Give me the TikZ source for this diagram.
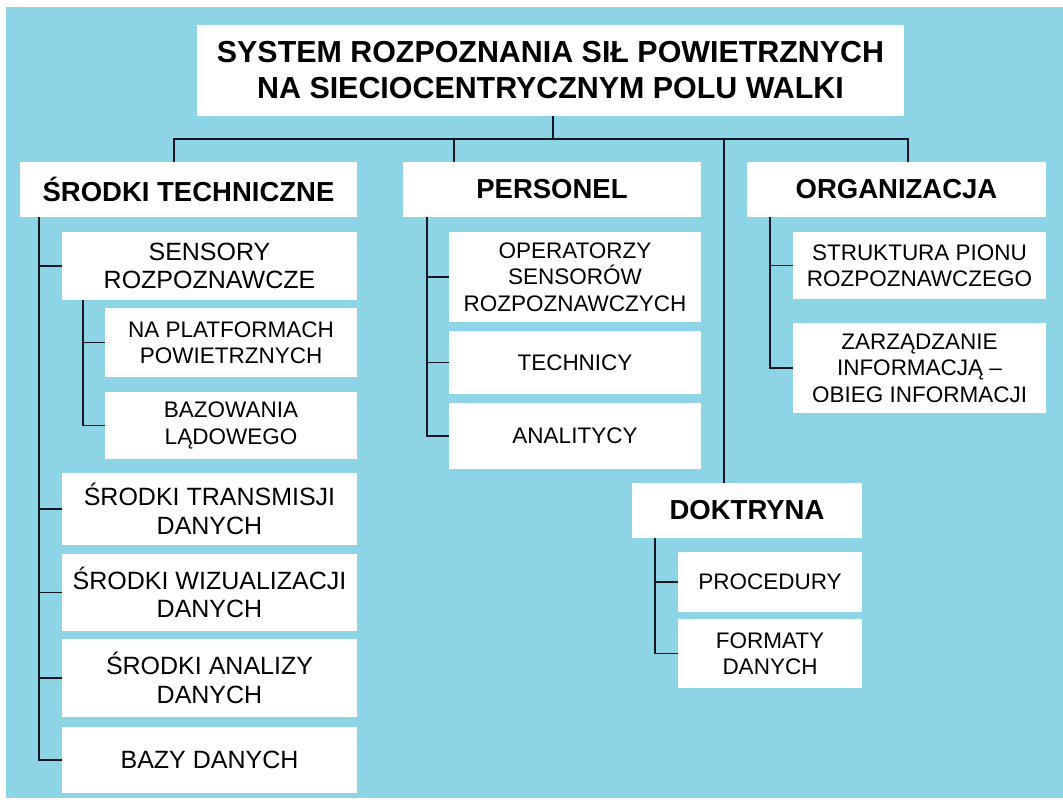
\documentclass[tikz,border=0pt]{standalone}
\usepackage{fontspec}
\setmainfont{Liberation Sans}
\definecolor{bg}{RGB}{141,212,231}
\definecolor{ln}{RGB}{22,22,32}
\begin{document}
\begin{tikzpicture}[x=1pt,y=-1pt,
  box/.style={fill=white, draw=none, inner sep=0pt, align=center, text=black},
  lvlzero/.style={box, font=\fontsize{30.4}{36}\selectfont\bfseries},
  lvlone/.style={box, font=\fontsize{27.5}{31}\selectfont\bfseries},
  lvltwo/.style={box, font=\fontsize{25}{28.5}\selectfont},
  lvlthree/.style={box, font=\fontsize{22.5}{26.5}\selectfont},
  conn/.style={draw=ln, line width=1.9pt}]
\useasboundingbox (0,0) rectangle (1063,806);
\fill[white] (0,0) rectangle (1063,806);
\fill[bg] (6,7) rectangle (1063,798);

% title
\node[lvlzero, minimum width=707pt, minimum height=91pt] (title) at (550.5,70.5)
  {SYSTEM ROZPOZNANIA SIŁ POWIETRZNYCH\\NA SIECIOCENTRYCZNYM POLU WALKI};

% level one
\node[lvlone, minimum width=337pt, minimum height=55pt] (st) at (188.5,189.5) {ŚRODKI TECHNICZNE};
\node[lvlone, minimum width=298pt, minimum height=55pt] (per) at (552,189.5) {PERSONEL};
\node[lvlone, minimum width=299pt, minimum height=55pt] (org) at (896.5,189.5) {ORGANIZACJA};
\node[lvlone, minimum width=230pt, minimum height=55pt] (dokt) at (747,510.5) {DOKTRYNA};

% srodki techniczne children
\node[lvltwo, minimum width=295pt, minimum height=68pt] (sens) at (209.5,266) {SENSORY\\ROZPOZNAWCZE};
\node[lvlthree, minimum width=252pt, minimum height=69pt] (nap) at (231,342.5) {NA PLATFORMACH\\POWIETRZNYCH};
\node[lvlthree, minimum width=252pt, minimum height=67pt] (baz) at (231,425.5) {BAZOWANIA\\LĄDOWEGO};
\node[lvltwo, minimum width=295pt, minimum height=72pt] (trans) at (209.5,509) {ŚRODKI TRANSMISJI\\DANYCH};
\node[lvltwo, minimum width=295pt, minimum height=77pt] (wiz) at (209.5,592.5) {ŚRODKI WIZUALIZACJI\\DANYCH};
\node[lvltwo, minimum width=295pt, minimum height=78pt] (anal) at (209.5,678) {ŚRODKI ANALIZY\\DANYCH};
\node[lvltwo, minimum width=295pt, minimum height=66pt] (bazy) at (209.5,760) {BAZY DANYCH};

% personel children
\node[lvlthree, minimum width=252pt, minimum height=90pt] (oper) at (575,277) {OPERATORZY\\SENSORÓW\\ROZPOZNAWCZYCH};
\node[lvlthree, minimum width=252pt, minimum height=63pt] (tech) at (575,362.5) {TECHNICY};
\node[lvlthree, minimum width=252pt, minimum height=66pt] (analit) at (575,436) {ANALITYCY};

% organizacja children
\node[lvlthree, minimum width=253pt, minimum height=67pt] (strukt) at (919.5,265.5) {STRUKTURA PIONU\\ROZPOZNAWCZEGO};
\node[lvlthree, minimum width=253pt, minimum height=90pt] (zarz) at (919.5,368) {ZARZĄDZANIE\\INFORMACJĄ –\\OBIEG INFORMACJI};

% doktryna children
\node[lvlthree, minimum width=184pt, minimum height=60pt] (proc) at (770,582) {PROCEDURY};
\node[lvlthree, minimum width=184pt, minimum height=69pt] (form) at (770,653.5) {FORMATY\\DANYCH};

% coordinates for connector lines
\coordinate (jt) at (553,139);
\coordinate (bl) at (174,139);
\coordinate (bp) at (454,139);
\coordinate (bd) at (724,139);
\coordinate (br) at (908,139);
\coordinate (tv) at (39,0);
\coordinate (sv) at (83,0);
\coordinate (pv) at (427,0);
\coordinate (ov) at (770,0);
\coordinate (dv) at (655,0);

% top tree
\draw[conn] (title.south -| jt) -- (jt);
\draw[conn] (st.north -| bl) |- (br) -- (org.north -| br);
\draw[conn] (bp) -- (per.north -| bp);
\draw[conn] (bd) -- (dokt.north -| bd);

% srodki techniczne
\draw[conn] (st.south -| tv) |- (bazy.west);
\foreach \n in {sens,trans,wiz,anal} \draw[conn] (\n.west -| tv) -- (\n.west);
\draw[conn] (sens.south -| sv) |- (baz.west);
\draw[conn] (nap.west -| sv) -- (nap.west);

% personel
\draw[conn] (per.south -| pv) |- (analit.west);
\foreach \n in {oper,tech} \draw[conn] (\n.west -| pv) -- (\n.west);

% organizacja
\draw[conn] (org.south -| ov) |- (zarz.west);
\draw[conn] (strukt.west -| ov) -- (strukt.west);

% doktryna
\draw[conn] (dokt.south -| dv) |- (form.west);
\draw[conn] (proc.west -| dv) -- (proc.west);
\end{tikzpicture}
\end{document}
